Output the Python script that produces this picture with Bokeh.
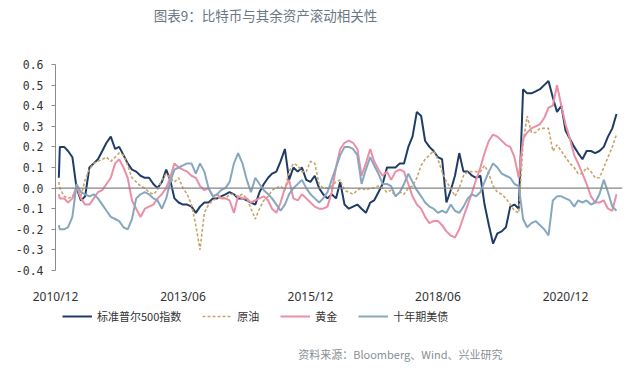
import pandas as pd
from datetime import datetime
from bokeh.plotting import figure
from bokeh.layouts import column
from bokeh.models import (Range1d, FixedTicker, DatetimeTickFormatter, Span, Label,
                          Legend, LegendItem, PrintfTickFormatter)
from bokeh.embed import file_html
from bokeh.resources import INLINE

# ---------------- data ----------------
title_text = "图表9：比特币与其余资产滚动相关性"
source_text = "资料来源：Bloomberg、Wind、兴业研究"
series_names = ["标准普尔500指数", "原油", "黄金", "十年期美债"]
tick_dates = ["2010-12-01", "2013-06-01", "2015-12-01", "2018-06-01", "2020-12-01"]
y_ticks = [-0.4, -0.3, -0.2, -0.1, 0.0, 0.1, 0.2, 0.3, 0.4, 0.5, 0.6]

first_date = "2010-12-25"
month_starts = pd.date_range("2011-01-01", "2021-12-01", freq="MS")
dates = pd.to_datetime([first_date]).append(month_starts)

spx = [
    0.05,
    0.20, 0.20, 0.18, 0.15, 0.00, -0.06, -0.04, 0.10, 0.12, 0.14, 0.18, 0.22,
    0.25, 0.19, 0.20, 0.16, 0.12, 0.09, 0.08, 0.06, 0.05, 0.05, 0.02, 0.00,
    0.03, 0.09, 0.04, -0.05, -0.07, -0.08, -0.08, -0.09, -0.12, -0.09, -0.07, -0.07,
    -0.05, -0.05, -0.04, -0.03, -0.02, -0.03, -0.05, -0.05, -0.06, -0.07, -0.08, -0.02,
    0.02, 0.05, 0.07, 0.08, 0.13, 0.19, 0.04, 0.10, 0.08, 0.10, 0.04, 0.03,
    0.06, 0.00, -0.03, -0.05, -0.03, -0.05, 0.03, -0.08, -0.10, -0.09, -0.08, -0.10,
    -0.12, -0.07, -0.06, -0.02, 0.02, 0.10, 0.10, 0.10, 0.12, 0.12, 0.20, 0.25,
    0.37, 0.35, 0.23, 0.20, 0.18, 0.15, 0.14, -0.07, -0.01, 0.06, 0.17, 0.08,
    0.08, 0.06, 0.05, 0.06, -0.08, -0.18, -0.27, -0.22, -0.21, -0.19, -0.09, -0.08,
    -0.10, 0.48, 0.46, 0.46, 0.47, 0.48, 0.50, 0.52, 0.44, 0.37, 0.40, 0.28,
    0.24, 0.20, 0.17, 0.14, 0.18, 0.18, 0.17, 0.18, 0.20, 0.25, 0.29, 0.36,
]

oil = [
    0.03,
    0.00, -0.04, -0.05, -0.04, -0.01, -0.04, 0.04, 0.09, 0.12, 0.13, 0.14, 0.15,
    0.13, 0.15, 0.17, 0.16, 0.11, 0.05, 0.03, 0.01, 0.00, -0.02, -0.03, -0.01,
    0.04, 0.07, 0.05, 0.03, 0.05, 0.00, -0.03, -0.08, -0.18, -0.30, -0.12, -0.08,
    -0.06, -0.05, -0.04, -0.05, -0.03, -0.03, -0.04, -0.03, -0.05, -0.10, -0.15, -0.10,
    -0.06, -0.04, -0.01, 0.00, 0.01, -0.01, 0.08, 0.12, 0.11, 0.08, 0.08, 0.13,
    0.12, 0.02, 0.00, 0.00, 0.01, 0.03, 0.04, -0.01, -0.02, -0.03, -0.01, 0.00,
    -0.01, 0.00, 0.00, 0.01, 0.00, -0.02, -0.01, -0.04, -0.02, -0.03, 0.00, 0.01,
    0.05, 0.11, 0.14, 0.16, 0.18, 0.14, 0.08, 0.03, 0.00, -0.04, 0.00, 0.06,
    0.08, 0.08, 0.08, 0.08, 0.11, 0.07, 0.01, -0.02, -0.03, -0.05, -0.08, -0.11,
    -0.12, 0.22, 0.35, 0.27, 0.27, 0.29, 0.29, 0.29, 0.18, 0.21, 0.18, 0.15,
    0.12, 0.10, 0.07, 0.07, 0.10, 0.08, 0.05, 0.05, 0.10, 0.15, 0.20, 0.26,
]

gold = [
    -0.03,
    -0.05, -0.05, -0.07, -0.05, 0.01, -0.05, -0.08, -0.08, -0.05, -0.02, -0.01, 0.02,
    0.05, 0.12, 0.14, 0.10, 0.05, -0.06, -0.10, -0.14, -0.10, -0.09, -0.08, -0.05,
    -0.03, 0.00, 0.05, 0.12, 0.10, 0.09, 0.08, 0.06, 0.05, 0.01, -0.01, 0.00,
    -0.04, -0.03, -0.05, -0.05, -0.06, -0.12, -0.04, -0.05, -0.05, -0.07, -0.06, -0.05,
    -0.04, -0.06, -0.10, -0.12, -0.07, 0.00, 0.04, -0.05, -0.06, -0.03, -0.05, -0.07,
    -0.09, -0.10, -0.10, -0.09, -0.02, 0.10, 0.19, 0.22, 0.23, 0.22, 0.19, 0.06,
    0.12, 0.19, 0.13, 0.09, 0.06, 0.08, 0.04, 0.08, 0.09, 0.08, 0.02, -0.04,
    -0.08, -0.10, -0.14, -0.17, -0.16, -0.16, -0.18, -0.21, -0.23, -0.24, -0.20, -0.14,
    -0.08, -0.02, 0.04, 0.10, 0.17, 0.23, 0.26, 0.25, 0.23, 0.21, 0.20, 0.15,
    0.05, 0.24, 0.27, 0.29, 0.30, 0.31, 0.34, 0.39, 0.40, 0.50, 0.40, 0.31,
    0.24, 0.16, 0.12, 0.07, 0.02, -0.04, -0.07, -0.07, -0.06, -0.10, -0.11, -0.03,
]

tsy = [
    -0.18,
    -0.20, -0.20, -0.19, -0.14, 0.02, -0.02, -0.03, -0.04, -0.03, -0.05, -0.08, -0.11,
    -0.14, -0.15, -0.16, -0.19, -0.20, -0.15, -0.05, -0.03, -0.02, -0.03, -0.05, -0.06,
    -0.10, -0.05, 0.03, 0.09, 0.10, 0.11, 0.12, 0.12, 0.07, 0.12, 0.08, 0.00,
    -0.04, -0.03, -0.01, 0.00, 0.03, 0.12, 0.17, 0.12, 0.04, -0.02, 0.05, 0.02,
    -0.01, -0.03, -0.05, -0.08, -0.11, -0.08, -0.03, 0.00, 0.02, 0.04, 0.00, -0.03,
    -0.05, -0.07, -0.05, -0.02, 0.04, 0.10, 0.16, 0.20, 0.20, 0.19, 0.16, 0.02,
    0.09, 0.15, 0.11, 0.07, 0.02, 0.02, 0.01, -0.04, -0.02, 0.02, 0.07, 0.03,
    -0.01, -0.04, -0.07, -0.09, -0.10, -0.12, -0.11, -0.12, -0.08, -0.11, -0.12, -0.09,
    -0.05, -0.03, -0.04, -0.02, 0.03, 0.08, 0.12, 0.10, 0.07, 0.06, 0.05, 0.02,
    0.01, -0.15, -0.19, -0.17, -0.16, -0.18, -0.20, -0.23, -0.06, -0.04, -0.04, -0.05,
    -0.06, -0.09, -0.06, -0.07, -0.06, -0.08, -0.07, -0.03, 0.04, -0.02, -0.09, -0.11,
]

# ---------------- styles ----------------
colors = ["#1f3c66", "#c9a46a", "#ea8fa6", "#87a7bf"]
widths = [2, 1.6, 2, 2]
dashes = ["solid", "3 2", "solid", "solid"]
CJK = "Noto Sans CJK SC"
W = 640
BL, BR = 55, 18   # left / right borders (frame edges aligned in all parts)


def blank_fig(height):
    f = figure(width=W, height=height, output_backend="svg", toolbar_location=None,
               title=None, x_axis_location=None, y_axis_location=None,
               x_range=Range1d(0, 1), y_range=Range1d(0, 1),
               min_border_left=BL, min_border_right=BR, min_border_top=0, min_border_bottom=0)
    f.outline_line_color = None
    f.xgrid.visible = False
    f.ygrid.visible = False
    return f


# ---- top: title ----
top = blank_fig(48)
top.add_layout(Label(x=210, y=34, x_units="screen", y_units="screen", text=title_text,
                     text_align="center", text_baseline="middle",
                     text_font=CJK, text_font_size="13.5px", text_color="#6b7784"))

# ---- main chart ----
p = figure(width=W, height=259, output_backend="svg", toolbar_location=None,
           x_axis_type="datetime", title=None,
           x_range=Range1d(datetime(2010, 12, 1), datetime(2022, 1, 13)),
           y_range=Range1d(-0.4, 0.6),
           min_border_left=BL, min_border_right=BR, min_border_top=16, min_border_bottom=28)
p.outline_line_color = None
p.xgrid.visible = False
p.ygrid.visible = False

p.add_layout(Span(location=0, dimension="width", line_color="#858585", line_width=1.3))

series = [spx, oil, gold, tsy]
for vals, c, w, d in zip(series, colors, widths, dashes):
    p.line(dates, vals, line_color=c, line_width=w, line_dash=d)

xa = p.xaxis[0]
xa.ticker = FixedTicker(ticks=[pd.Timestamp(d).value / 1e6 for d in tick_dates])
fmt = "%Y/%m"
xa.formatter = DatetimeTickFormatter(years=fmt, months=fmt, days=fmt, hours=fmt,
                                     hourmin=fmt, minutes=fmt, minsec=fmt, seconds=fmt,
                                     milliseconds=fmt, microseconds=fmt)
xa.axis_line_color = None
xa.major_tick_line_color = None
xa.minor_tick_line_color = None
xa.major_label_standoff = 11
xa.major_label_text_font = "Noto Sans"
xa.major_label_text_font_size = "12px"
xa.major_label_text_color = "#333333"

ya = p.yaxis[0]
ya.ticker = FixedTicker(ticks=y_ticks)
ya.formatter = PrintfTickFormatter(format="%.1f")
ya.axis_line_color = "#8c8c8c"
ya.major_tick_line_color = "#8c8c8c"
ya.major_tick_in = 0
ya.major_tick_out = 4
ya.minor_tick_line_color = None
ya.major_label_standoff = 8
ya.major_label_text_font = "DejaVu Sans Mono"
ya.major_label_text_font_size = "11.5px"
ya.major_label_text_color = "#333333"

# ---- bottom: legend + source ----
bot = blank_fig(67)
items = []
for name, c, w, d in zip(series_names, colors, widths, dashes):
    # legend-only renderer, kept outside the visible range of this strip
    r = bot.line([0, 1], [-5, -5], line_color=c, line_width=w, line_dash=d)
    items.append(LegendItem(label=name, renderers=[r]))
legend = Legend(items=items, orientation="horizontal", location=(7, 50),
                glyph_width=30, glyph_height=12, label_height=12, label_standoff=5,
                spacing=21, padding=0, margin=0,
                border_line_color=None, background_fill_alpha=0,
                label_text_font=CJK, label_text_font_size="11px",
                label_text_color="#333333")
bot.add_layout(legend)
bot.add_layout(Label(x=447, y=21, x_units="screen", y_units="screen", text=source_text,
                     text_align="right", text_baseline="middle",
                     text_font=CJK, text_font_size="11px", text_color="#8a8f95"))

layout = column(top, p, bot, spacing=0)
open("out.html", "w").write(file_html(layout, INLINE))
